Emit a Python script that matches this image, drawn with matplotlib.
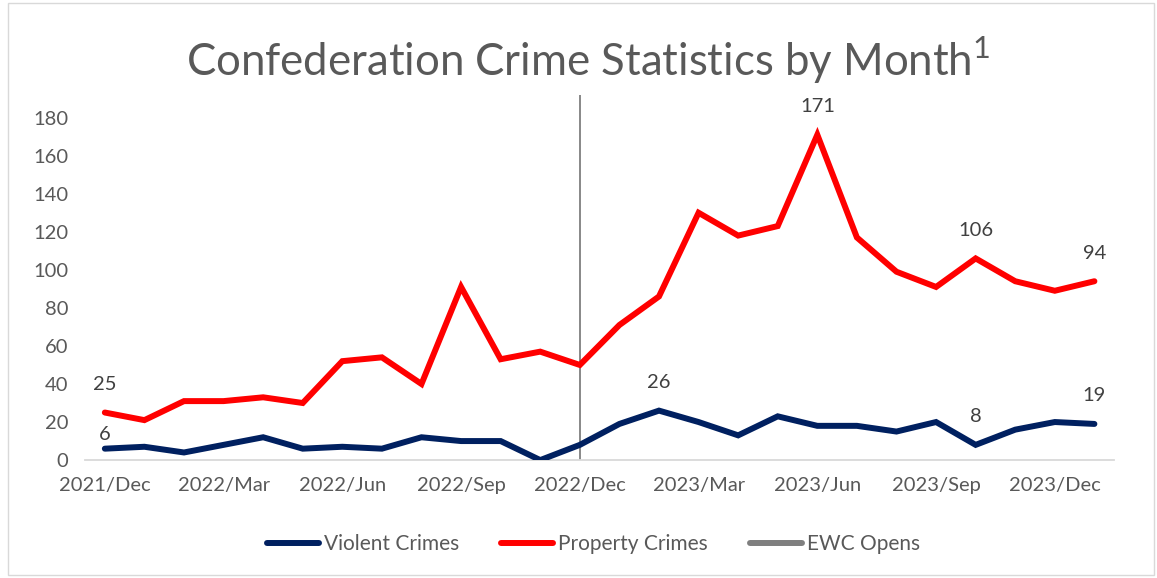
import numpy as np
import matplotlib
matplotlib.use("Agg")
import matplotlib.pyplot as plt
from matplotlib.lines import Line2D
from matplotlib.patches import Rectangle

plt.rcParams['font.family'] = ['Lato', 'DejaVu Sans']

months = ["2021/Dec", "2022/Jan", "2022/Feb", "2022/Mar", "2022/Apr", "2022/May",
          "2022/Jun", "2022/Jul", "2022/Aug", "2022/Sep", "2022/Oct", "2022/Nov",
          "2022/Dec", "2023/Jan", "2023/Feb", "2023/Mar", "2023/Apr", "2023/May",
          "2023/Jun", "2023/Jul", "2023/Aug", "2023/Sep", "2023/Oct", "2023/Nov",
          "2023/Dec", "2024/Jan"]
violent = [6, 7, 4, 8, 12, 6, 7, 6, 12, 10, 10, 0, 8,
           19, 26, 20, 13, 23, 18, 18, 15, 20, 8, 16, 20, 19]
property_ = [25, 21, 31, 31, 33, 30, 52, 54, 40, 91, 53, 57, 50,
             71, 86, 130, 118, 123, 171, 117, 99, 91, 106, 94, 89, 94]
ewc_month = "2022/Dec"
violent_labeled = [0, 14, 22, 25]
property_labeled = [0, 18, 22, 25]

grey_txt = "#595959"
x = np.arange(len(months))

fig = plt.figure(figsize=(11.57, 5.78), dpi=100)
ax = fig.add_axes([0.0735, 0.204, 0.8895, 0.632])

ln_v, = ax.plot(x, violent, color="#002060", lw=4.3, solid_joinstyle="miter",
                solid_capstyle="round", label="Violent Crimes", zorder=3)
ln_p, = ax.plot(x, property_, color="#ff0000", lw=4.3, solid_joinstyle="miter",
                solid_capstyle="round", label="Property Crimes", zorder=3)
ewc = months.index(ewc_month)
ax.axvline(ewc, color="#7f7f7f", lw=1.3, zorder=2)
ln_e = Line2D([], [], color="#7f7f7f", lw=4.3, solid_capstyle="round", label="EWC Opens")

for i in property_labeled:
    ax.annotate(str(property_[i]), (x[i], property_[i]), xytext=(0, 14),
                textcoords="offset points", ha="center", va="bottom",
                fontsize=14.5, color="#404040")
for i in violent_labeled:
    off = 4 if i == 0 else 14
    ax.annotate(str(violent[i]), (x[i], violent[i]), xytext=(0, off),
                textcoords="offset points", ha="center", va="bottom",
                fontsize=14.5, color="#404040")

ax.set_xlim(-0.5, len(months) - 0.5)
ax.set_ylim(0, 192)
ax.set_yticks(np.arange(0, 181, 20))
ax.set_xticks(x[::3])
ax.set_xticklabels(months[::3])
ax.tick_params(axis="both", length=0, labelsize=14.5, colors=grey_txt)
ax.tick_params(axis="x", pad=12)
ax.tick_params(axis="y", pad=12)
for s in ["top", "right", "left"]:
    ax.spines[s].set_visible(False)
ax.spines["bottom"].set_color("#d9d9d9")
ax.spines["bottom"].set_linewidth(1.3)

fig.text(0.508, 0.895, r"Confederation Crime Statistics by Month$^{\mathregular{1}}$",
         ha="center", va="center", fontsize=31.5, color=grey_txt)

ax.legend(handles=[ln_v, ln_p, ln_e], loc="center", bbox_to_anchor=(0.494, -0.23),
          ncol=3, frameon=False, fontsize=15, labelcolor=grey_txt,
          handlelength=2.5, handletextpad=0.25, columnspacing=2.0)

fig.patches.append(Rectangle((0.007, 0.005), 0.99, 0.99, transform=fig.transFigure,
                             fill=False, edgecolor="#d9d9d9", lw=1))

fig.savefig("out.png", dpi=100)
